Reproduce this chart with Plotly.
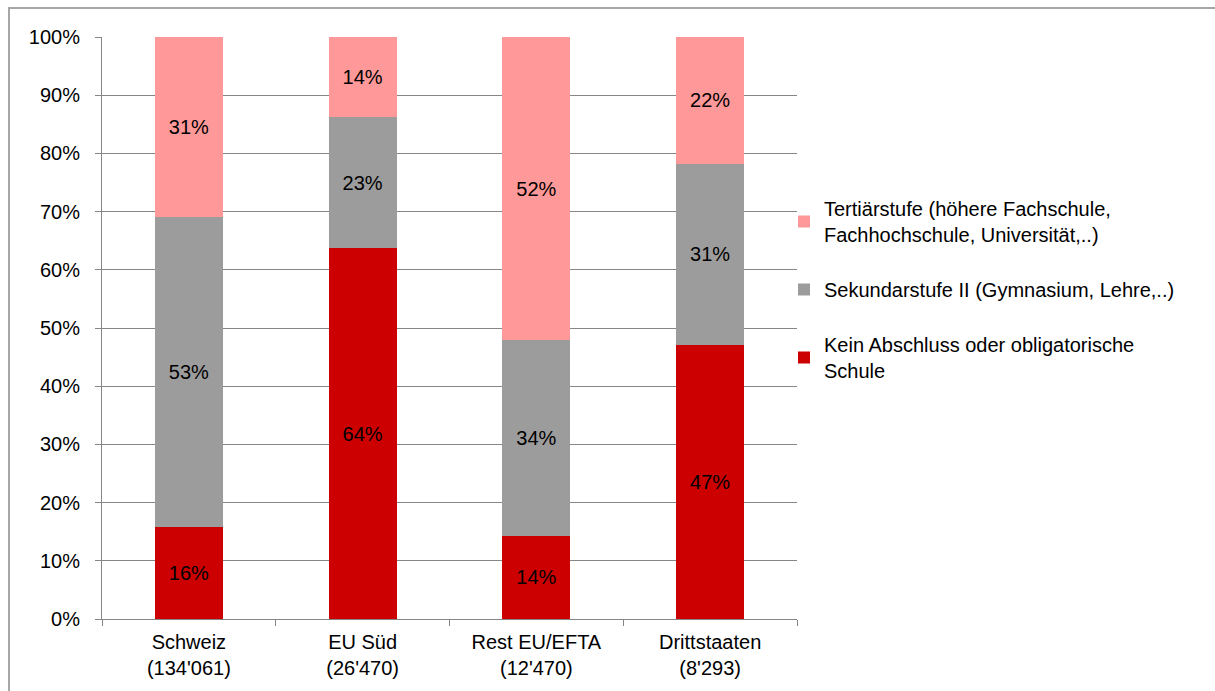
import plotly.graph_objects as go

categories = ["Schweiz<br>(134'061)", "EU Süd<br>(26'470)", "Rest EU/EFTA<br>(12'470)", "Drittstaaten<br>(8'293)"]
kein = [15.8, 63.7, 14.3, 47.1]
sekundar = [53.3, 22.6, 33.6, 31.1]
tertiaer = [30.9, 13.7, 52.1, 21.8]
labels_kein = ["16%", "64%", "14%", "47%"]
labels_sek = ["53%", "23%", "34%", "31%"]
labels_ter = ["31%", "14%", "52%", "22%"]

names = [
    "Kein Abschluss oder obligatorische<br>Schule",
    "Sekundarstufe II (Gymnasium, Lehre,..)",
    "Tertiärstufe (höhere Fachschule,<br>Fachhochschule, Universität,..)",
]
colors = ["#CC0000", "#9C9C9C", "#FF9999"]
ranks = [3, 2, 1]

FONT = "Liberation Sans, Arial, sans-serif"
FS = 20

fig = go.Figure()
for i, (vals, txt) in enumerate([(kein, labels_kein), (sekundar, labels_sek), (tertiaer, labels_ter)]):
    fig.add_trace(go.Bar(
        x=categories, y=vals, name=names[i], text=txt,
        marker=dict(color=colors[i], line=dict(width=0)),
        textposition="inside", insidetextanchor="middle", textangle=0,
        constraintext="none",
        textfont=dict(family=FONT, size=FS, color="black"),
        legendgroup=str(i), legendrank=ranks[i], hoverinfo="skip",
    ))

L, R, T, B = 102, 797, 37, 619
W, H = 1215, 691
pw, ph = R - L, B - T

def px_x(px):
    return (px - L) / pw

def px_y(py):
    return (B - py) / ph

fig.update_layout(
    width=W, height=H,
    margin=dict(l=L, r=W - R, t=T, b=H - B, pad=0, autoexpand=False),
    barmode="stack", bargap=0.61,
    plot_bgcolor="white", paper_bgcolor="white",
    font=dict(family=FONT, size=FS, color="black"),
    showlegend=True,
    legend=dict(
        x=px_x(784), y=px_y(189), xanchor="left", yanchor="top",
        traceorder="grouped", tracegroupgap=26,
        font=dict(family=FONT, size=FS, color="black"),
        bgcolor="rgba(0,0,0,0)", itemclick=False,
    ),
    xaxis=dict(
        showline=True, linecolor="#868686", linewidth=1,
        ticks="outside", ticklen=6, tickcolor="#868686", tickson="boundaries",
        showgrid=False, tickfont=dict(family=FONT, size=FS, color="black"),
        ticklabelstandoff=5,
        fixedrange=True, automargin=False,
    ),
    yaxis=dict(
        range=[0, 100], dtick=10, ticksuffix="%",
        showline=True, linecolor="#868686", linewidth=1,
        ticks="outside", ticklen=6, tickcolor="#868686",
        showgrid=True, gridcolor="#868686", gridwidth=1,
        zeroline=False, ticklabelstandoff=11,
        tickfont=dict(family=FONT, size=FS, color="black"),
        fixedrange=True, automargin=False,
    ),
    shapes=[dict(
        type="rect", xref="paper", yref="paper",
        x0=px_x(9), x1=px_x(1225), y0=px_y(700), y1=px_y(8),
        line=dict(color="#A6A6A6", width=2), fillcolor="rgba(0,0,0,0)", layer="below",
    )],
)

fig.write_html(
    "out.html",
    config={"displayModeBar": False},
    post_script="document.body.style.margin='0';document.body.style.overflow='hidden';",
)
